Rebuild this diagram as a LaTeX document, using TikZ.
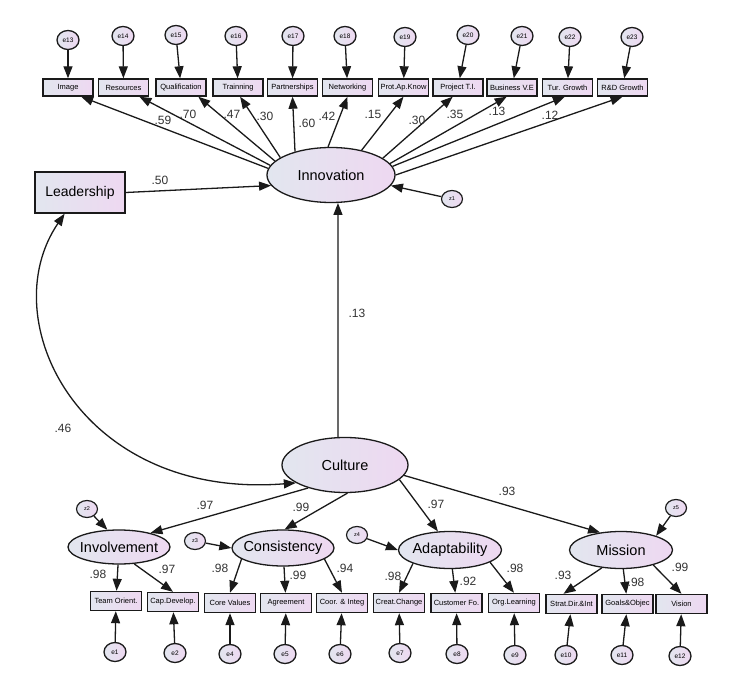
\documentclass[tikz,border=0pt]{standalone}
\usepackage{fontspec}
\setmainfont{Liberation Sans}
\usetikzlibrary{arrows.meta,shapes.geometric}
\definecolor{cL}{HTML}{E2E6EF}
\definecolor{cR}{HTML}{EED8F1}
\definecolor{lc}{HTML}{1A1A1A}
\definecolor{tc}{HTML}{333333}
\newcommand\mytxt[1]{\makebox[0pt]{#1}}
\tikzset{
 grad/.style={left color=cL,right color=cR},
 obs/.style={draw=lc,line width=1.4pt,grad,rectangle,minimum width=50pt,minimum height=17pt,inner sep=0pt,font=\fontsize{7.5}{8}\selectfont},
 obsb/.style={obs,minimum width=51pt,minimum height=19pt},
 latent/.style={draw=lc,line width=1.3pt,ellipse,grad,inner sep=0pt,font=\fontsize{14.5}{16}\selectfont},
 errc/.style={draw=lc,line width=1.3pt,ellipse,grad,minimum width=22pt,minimum height=19pt,inner sep=0pt,font=\fontsize{6.5}{7}\selectfont},
 distc/.style={draw=lc,line width=1.2pt,ellipse,grad,minimum width=21pt,minimum height=17pt,inner sep=0pt,font=\fontsize{5.5}{6}\selectfont},
 arr/.style={draw=lc,line width=1.3pt,-{Triangle[length=12pt,width=9pt]}},
 dblarr/.style={draw=lc,line width=1.3pt,{Triangle[length=12pt,width=9pt]}-{Triangle[length=12pt,width=9pt]}},
 coef/.style={font=\fontsize{12}{13}\selectfont,text=tc,inner sep=0pt},
}
\begin{document}
\begin{tikzpicture}[x=1pt,y=-1pt]
\useasboundingbox[fill=white] (0,0) rectangle (750,679);

% latent variables
\node[latent,minimum width=128pt,minimum height=55pt] (innov) at (331,175) {\mytxt{Innovation}};
\node[obs,minimum width=90pt,minimum height=41pt,font=\fontsize{14}{16}\selectfont] (lead) at (80,192.5) {\mytxt{Leadership}};
\node[latent,minimum width=126pt,minimum height=55pt] (culture) at (345,465) {\mytxt{Culture}};
\node[latent,minimum width=102pt,minimum height=34pt] (inv) at (119,547) {\mytxt{Involvement}};
\node[latent,minimum width=102pt,minimum height=36pt] (cons) at (283,548) {\mytxt{Consistency}};
\node[latent,minimum width=103pt,minimum height=37pt] (adap) at (450,550) {\mytxt{Adaptability}};
\node[latent,minimum width=103pt,minimum height=37pt] (miss) at (621,550) {\mytxt{Mission}};

% top indicators
\node[obs] (img) at (68,87.5) {\mytxt{Image}};
\node[obs] (res) at (123.5,87.5) {\mytxt{Resources}};
\node[obs] (qual) at (181,87.5) {\mytxt{Qualification}};
\node[obs] (train) at (238,87.5) {\mytxt{Trainning}};
\node[obs] (part) at (292.5,87.5) {\mytxt{Partnerships}};
\node[obs] (net) at (347.5,87.5) {\mytxt{Networking}};
\node[obs] (prot) at (403.5,87.5) {\mytxt{Prot.Ap.Know}};
\node[obs] (proj) at (458,87.5) {\mytxt{Project T.I.}};
\node[obs] (bus) at (512,87.5) {\mytxt{Business V.E}};
\node[obs] (tur) at (567.5,87.5) {\mytxt{Tur. Growth}};
\node[obs] (rd) at (622.5,87.5) {\mytxt{R\&D Growth}};

% top errors
\node[errc] (e13) at (68,40) {e13};
\node[errc] (e14) at (123,36) {e14};
\node[errc] (e15) at (176,35) {e15};
\node[errc] (e16) at (236,36) {e16};
\node[errc] (e17) at (293,36) {e17};
\node[errc] (e18) at (345,36) {e18};
\node[errc] (e19) at (405,37) {e19};
\node[errc] (e20) at (468,35) {e20};
\node[errc] (e21) at (522,36) {e21};
\node[errc] (e22) at (570,37) {e22};
\node[errc] (e23) at (632,37) {e23};

% bottom indicators
\node[obsb] (b1) at (116,601) {\mytxt{Team Orient.}};
\node[obsb] (b2) at (173,602) {\mytxt{Cap.Develop.}};
\node[obsb] (b3) at (230,603) {\mytxt{Core Values}};
\node[obsb] (b4) at (286,603) {\mytxt{Agreement}};
\node[obsb] (b5) at (342,603) {\mytxt{Coor. \& Integ}};
\node[obsb] (b6) at (399,603) {\mytxt{Creat.Change}};
\node[obsb] (b7) at (456.5,603) {\mytxt{Customer Fo.}};
\node[obsb] (b8) at (514,603) {\mytxt{Org.Learning}};
\node[obsb] (b9) at (571.5,604) {\mytxt{Strat.Dir.\&Int}};
\node[obsb] (b10) at (627.5,604) {\mytxt{Goals\&Objec}};
\node[obsb] (b11) at (681.5,604) {\mytxt{Vision}};

% bottom errors
\node[errc] (e1) at (115,652) {e1};
\node[errc] (e2) at (175,653) {e2};
\node[errc] (e4) at (230,654) {e4};
\node[errc] (e5) at (285,654) {e5};
\node[errc] (e6) at (340,654) {e6};
\node[errc] (e7) at (400,653) {e7};
\node[errc] (e8) at (457,654) {e8};
\node[errc] (e9) at (515,655) {e9};
\node[errc] (e10) at (566,655) {e10};
\node[errc] (e11) at (622,655) {e11};
\node[errc] (e12) at (680,656) {e12};

% disturbances
\node[distc] (z1) at (452,199) {z1};
\node[distc] (z2) at (87,509) {z2};
\node[distc] (z3) at (195,541) {z3};
\node[distc] (z4) at (357,535) {z4};
\node[distc] (z5) at (676,508) {z5};

% top error arrows
\foreach \e/\b in {e13/img,e14/res,e15/qual,e16/train,e17/part,e18/net,e19/prot,e20/proj,e21/bus,e22/tur,e23/rd}
  \draw[arr] (\e) -- (\b);

% innovation -> top indicators
\draw[arr] (innov.174) -- (img.-35);
\draw[arr] (innov.171) -- (res.-30);
\draw[arr] (innov.166) -- (qual.-28);
\draw[arr] (innov.161) -- (train.-77);
\draw[arr] (innov.147) -- (part.south);
\draw[arr] (innov.96) -- (net.south);
\draw[arr] (innov.39) -- (prot.south);
\draw[arr] (innov.18) -- (proj.-120);
\draw[arr] (innov.11) -- (bus.-120);
\draw[arr] (innov.8) -- (tur.-106);
\draw[arr] (innov.0) -- (rd.south);

% structural paths
\draw[arr] (lead.east) -- (innov.190);
\draw[arr] (z1) -- (innov.-10);
\draw[arr] (culture.104) -- (innov.-76);
\draw[dblarr] (lead.234) .. controls (-8,320) and (80,500) .. (culture.200);

\draw[arr] (culture.212) -- (inv.24);
\draw[arr] (culture.-85) -- (cons.85);
\draw[arr] (culture.-15) -- (adap.123);
\draw[arr] (culture.-10) -- (miss.140);

\draw[arr] (z2) -- (inv.124);
\draw[arr] (z3) -- (cons.west);
\draw[arr] (z4) -- (adap.west);
\draw[arr] (z5) -- (miss.22);

% lower latent -> indicators
\draw[arr] (inv) -- (b1);
\draw[arr] (inv.-48) -- (b2.north);
\draw[arr] (cons.195) -- (b3.north);
\draw[arr] (cons) -- (b4);
\draw[arr] (cons.-15) -- (b5.north);
\draw[arr] (adap.200) -- (b6.north);
\draw[arr] (adap) -- (b7);
\draw[arr] (adap.-17) -- (b8.north);
\draw[arr] (miss.-137) -- ([xshift=-8pt]b9.north);
\draw[arr] (miss) -- (b10);
\draw[arr] (miss.-25) -- (b11.north);

% bottom error arrows
\foreach \e/\b in {e1/b1,e2/b2,e4/b3,e5/b4,e6/b5,e7/b6,e8/b7,e9/b8,e10/b9,e11/b10,e12/b11}
  \draw[arr] (\e) -- (\b);

% coefficients
\node[coef] (l1) at (163,120) {.59};
\node[coef] (l2) at (188,114) {.70};
\node[coef] (l3) at (232,114) {.47};
\node[coef] (l4) at (265,116) {.30};
\node[coef] (l5) at (307,123) {.60};
\node[coef] (l6) at (327,116) {.42};
\node[coef] (l7) at (373,114) {.15};
\node[coef] (l8) at (417,120) {.30};
\node[coef] (l9) at (455,114) {.35};
\node[coef] (l10) at (497,111) {.13};
\node[coef] (l11) at (550,115) {.12};
\node[coef] (l12) at (160,180) {.50};
\node[coef] (l13) at (357,313) {.13};
\node[coef] (l14) at (63,428) {.46};
\node[coef] (l15) at (205,505) {.97};
\node[coef] (l16) at (301,507) {.99};
\node[coef] (l17) at (436,504) {.97};
\node[coef] (l18) at (507,491) {.93};
\node[coef] (l19) at (98,574) {.98};
\node[coef] (l20) at (167,569) {.97};
\node[coef] (l21) at (220,568) {.98};
\node[coef] (l22) at (298,575) {.99};
\node[coef] (l23) at (345,568) {.94};
\node[coef] (l24) at (393,576) {.98};
\node[coef] (l25) at (468,581) {.92};
\node[coef] (l26) at (515,568) {.98};
\node[coef] (l27) at (563,575) {.93};
\node[coef] (l28) at (636,582) {.98};
\node[coef] (l29) at (680,567) {.99};
\end{tikzpicture}
\end{document}
